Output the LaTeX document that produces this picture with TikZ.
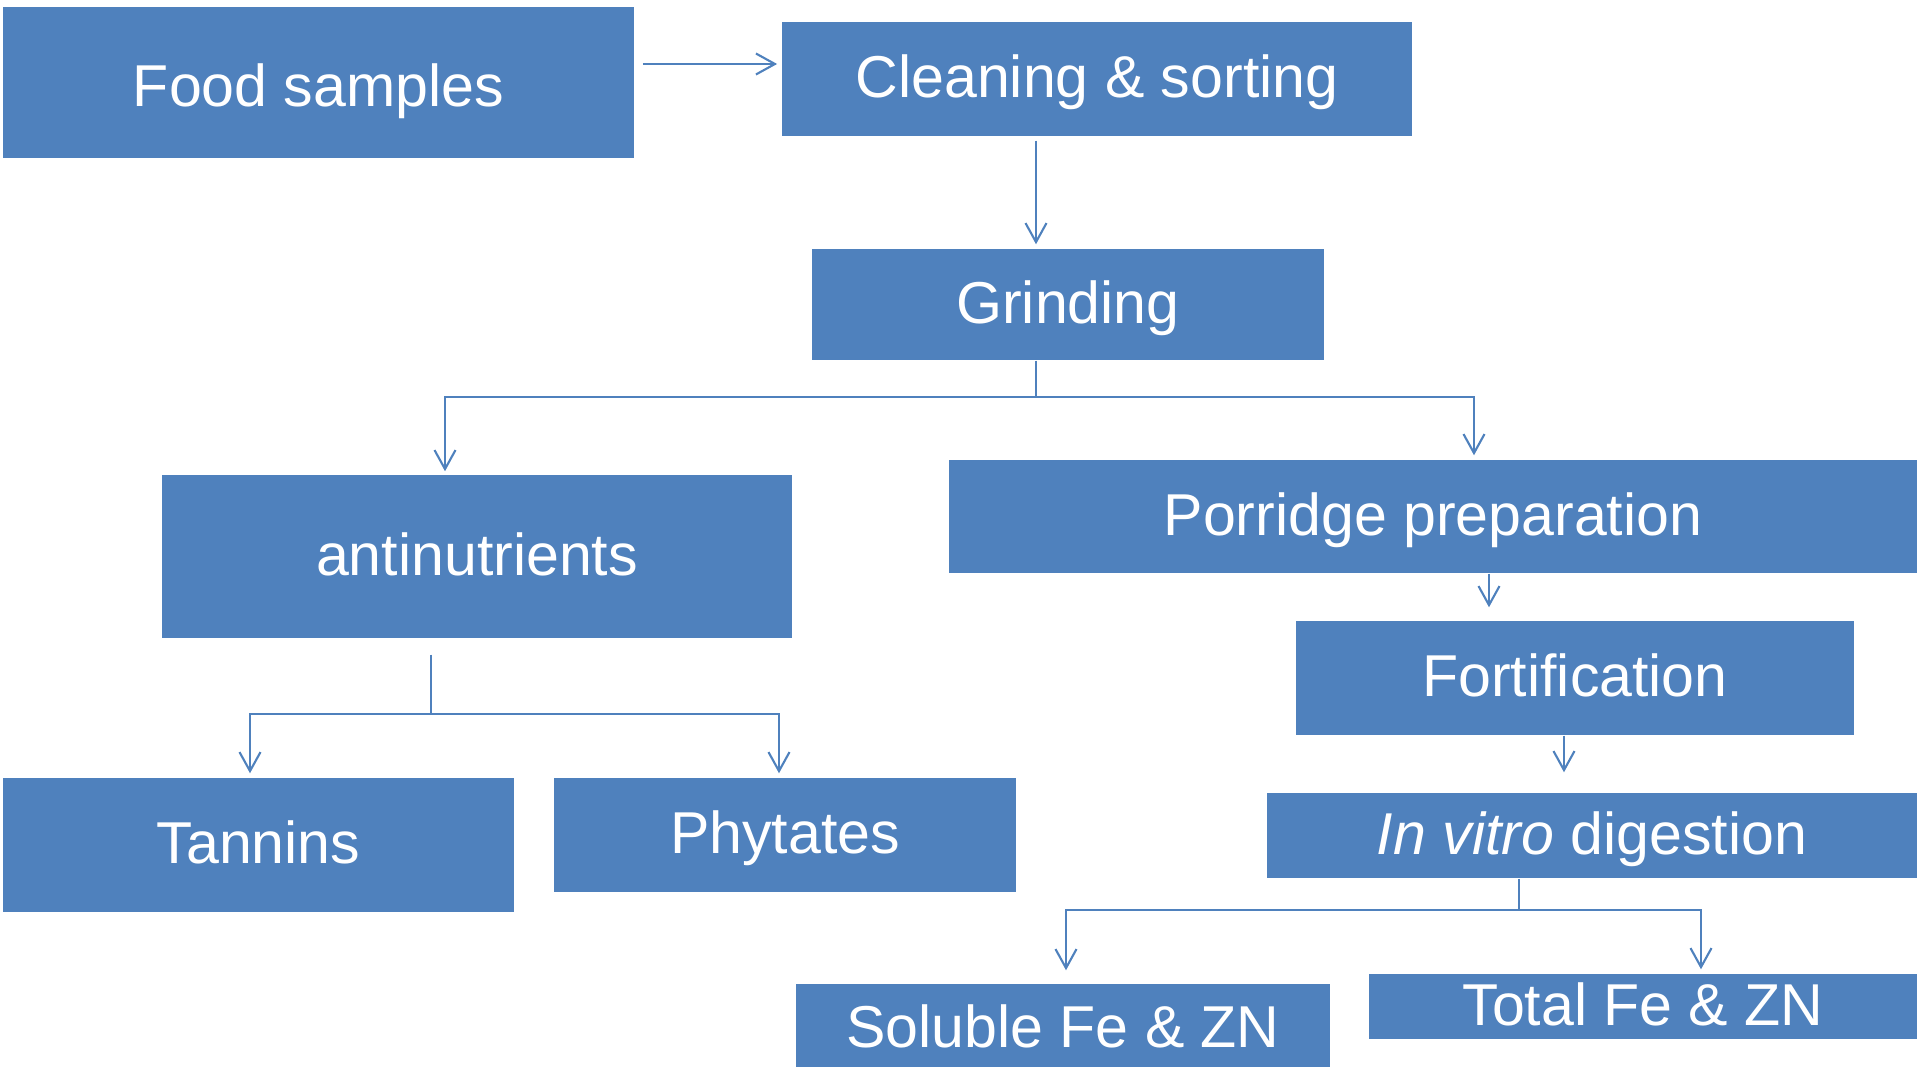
\documentclass[tikz,border=0pt]{standalone}
\usepackage{fontspec}
\setmainfont{Liberation Sans}
\usetikzlibrary{calc,arrows.meta}
\definecolor{boxblue}{HTML}{4F81BD}

\begin{document}
\begin{tikzpicture}[x=0.01cm,y=-0.01cm,>={Straight Barb[length=0.19cm,width=0.21cm]},
    box/.style={fill=boxblue,text=white,inner sep=0pt,text height=0.43cm,text depth=0.06cm,
        font=\fontsize{16.8}{20}\selectfont},
    conn/.style={draw=boxblue,line width=0.6pt}]
    \useasboundingbox (0,0) rectangle (1920,1067);
    \node[box,minimum width=6.31cm,minimum height=1.51cm,text height=0.47cm,text depth=0cm] (Food) at (318.5,82.5) {Food samples};
    \node[box,minimum width=6.30cm,minimum height=1.14cm] (Cleaning) at (1097,79) {Cleaning \& sorting};
    \node[box,minimum width=5.12cm,minimum height=1.11cm] (Grinding) at (1068,304.5) {Grinding};
    \node[box,minimum width=6.30cm,minimum height=1.63cm] (Anti) at (477,556.5) {antinutrients};
    \node[box,minimum width=9.68cm,minimum height=1.13cm] (Porridge) at (1433,516.5) {Porridge preparation};
    \node[box,minimum width=5.58cm,minimum height=1.14cm] (Fortif) at (1575,678) {Fortification};
    \node[box,minimum width=6.50cm,minimum height=0.85cm] (Digestion) at (1592,835.5) {\textit{In vitro} digestion};
    \node[box,minimum width=5.11cm,minimum height=1.34cm] (Tannins) at (258.5,845) {Tannins};
    \node[box,minimum width=4.62cm,minimum height=1.14cm] (Phytates) at (785,835) {Phytates};
    \node[box,minimum width=5.34cm,minimum height=0.83cm,text height=0.43cm,text depth=0cm] (Soluble) at (1063,1025.5) {Soluble Fe \& ZN};
    \node[box,minimum width=5.48cm,minimum height=0.65cm] (Total) at (1643,1006.5) {Total Fe \& ZN};
    %
    \coordinate (gsplit) at (1036,397);
    \coordinate (asplit) at (431,714);
    \coordinate (dsplit) at (1519,910);
    %
    \draw[conn,->] ($(Food.east)+(8,-18.5)$) -- ($(Cleaning.west |- Food.east)+(-4,-18.5)$);
    \draw[conn,->] ($(Cleaning.south)+(-61,4)$) -- ($(Grinding.north)+(-32,-4)$);
    
    \draw[conn] ($(Grinding.south)+(-32,0)$) -- (gsplit);
    \draw[conn,->] (gsplit) -| ($(Anti.north)+(-32,-3)$);
    \draw[conn,->] (gsplit) -| ($(Porridge.north)+(41,-4)$);
    
    \draw[conn] ($(Anti.south)+(-46,16)$) -- (asplit);
    \draw[conn,->] (asplit) -| ($(Tannins.north)+(-8.5,-4)$);
    \draw[conn,->] (asplit) -| ($(Phytates.north)+(-6,-4)$);
    
    \draw[conn,->] ($(Porridge.south)+(56,0)$) -- ($(Fortif.north)+(-86,-13)$);
    \draw[conn,->] ($(Fortif.south)+(-11,0)$) -- ($(Digestion.north)+(-28,-20)$);
    
    \draw[conn] ($(Digestion.south)+(-73,0)$) -- (dsplit);
    \draw[conn,->] (dsplit) -| ($(Soluble.north)+(3,-13)$);
    \draw[conn,->] (dsplit) -| ($(Total.north)+(58,-4)$);
    
\end{tikzpicture}
\end{document}
